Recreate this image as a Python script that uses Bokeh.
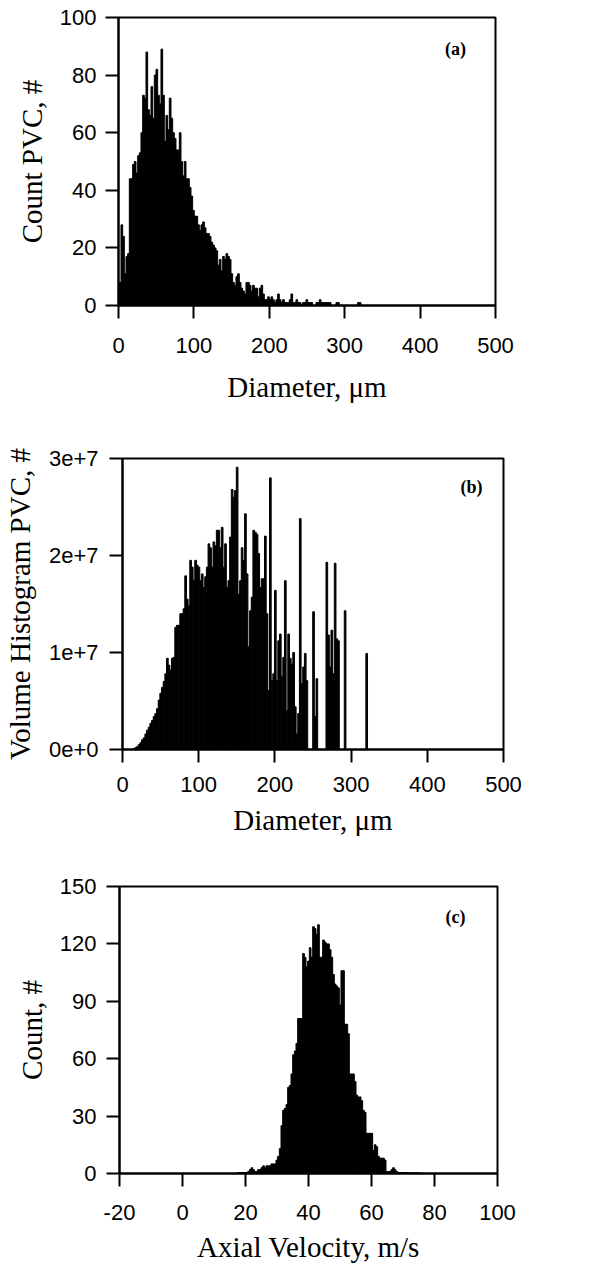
import numpy as np
from bokeh.plotting import figure
from bokeh.layouts import column
from bokeh.models import Range1d, FixedTicker, CustomJSTickFormatter, Label, ColumnDataSource
from bokeh.embed import file_html
from bokeh.resources import INLINE

# ---------------- data ----------------
# (a) particle count histogram vs diameter (um)
diam_a_start = 1.1      # left edge of first bin, um
diam_a_width = 2.21     # bin width, um
count_pvc = [8, 28, 24, 11, 17, 18, 44, 44, 49, 50, 46, 52, 53, 60, 73, 72, 88, 68, 66, 76,
             65, 80, 82, 73, 70, 89, 73, 57, 66, 61, 72, 65, 60, 58, 54, 54, 60, 50, 45, 50,
             44, 44, 41, 38, 33, 31, 31, 28, 26, 28, 29, 27, 25, 25, 24, 22, 21, 20, 19, 14,
             16, 12, 17, 16, 18, 17, 16, 11, 8, 7, 10, 11, 8, 6, 5, 4, 8, 8, 7, 5,
             7, 6, 6, 3, 6, 7, 4, 2, 2, 3, 2, 3, 2, 1, 2, 4, 2, 1, 2, 1,
             1, 1, 2, 4, 1, 1, 2, 1, 1, 0, 1, 1, 2, 1, 1, 1, 0, 0, 1, 1,
             2, 1, 1, 1, 1, 1, 1, 0, 0, 0, 1, 1, 0, 0, 0, 0, 0, 0, 0, 0,
             0, 0, 0, 1, 1, 0, 0]

# (b) volume histogram vs diameter (um), values in millions
diam_b_start = 1.1
diam_b_width = 2.18
volume_millions = [0, 0, 0, 0, 0, 0, 0.1, 0.2, 0.3, 0.5, 0.7, 1.0, 1.2, 1.6, 2.0, 2.3, 2.7, 3.0, 3.4, 3.7,
                   4.2, 5.1, 5.8, 6.4, 7.0, 7.8, 9.4, 8.7, 8.2, 9.4, 9.5, 12.6, 12.8, 12.8, 14.0, 14.0, 14.5, 17.9, 15.5, 14.8,
                   19.5, 18.8, 17.4, 19.5, 19.0, 18.8, 17.4, 18.1, 16.7, 17.8, 18.8, 21.2, 20.8, 18.8, 21.4, 21.0, 22.6, 22.6, 20.8, 22.9,
                   18.8, 21.2, 16.7, 17.4, 21.9, 26.8, 26.0, 26.7, 29.1, 16.0, 17.4, 20.8, 19.5, 24.3, 18.1, 10.6, 14.3, 15.7, 22.6, 22.4,
                   22.2, 20.2, 16.7, 17.6, 17.6, 22.0, 14.0, 6.1, 28.0, 7.1, 7.8, 16.4, 7.1, 11.2, 11.9, 7.5, 9.5, 17.4, 4.0, 11.9,
                   9.4, 8.8, 10.0, 4.4, 1.6, 3.7, 23.8, 6.8, 8.5, 9.9, 7.1, 0, 0, 0, 14.2, 3.4, 7.3, 0, 0, 0,
                   0, 0, 19.3, 11.8, 8.5, 12.3, 7.8, 19.2, 11.4, 11.2, 0, 0, 0, 14.3, 0, 0, 0, 0, 0, 0,
                   0, 0, 0, 0, 0, 0, 9.9]

# (c) count vs axial velocity (m/s)
vel_start = 15.93
vel_width = 0.529
count_vel = [0, 0, 0, 0.5, 0.5, 0.5, 0.5, 0.5, 0.5, 1, 2, 3, 2, 1, 1, 2, 2, 3, 4, 3,
             4, 4, 4, 5, 5, 5, 7, 9, 13, 25, 33, 34, 36, 45, 46, 52, 62, 64, 68, 81,
             81, 81, 115, 113, 108, 111, 118, 113, 129, 128, 125, 130, 113, 113, 122, 121, 120, 120, 117, 113,
             104, 99, 98, 97, 88, 106, 106, 78, 78, 73, 52, 52, 52, 48, 41, 40, 40, 38, 33, 32,
             21, 21, 21, 21, 12, 15, 14, 9, 8, 8, 8, 7, 1, 1, 1, 2, 3, 2, 1, 0.5,
             0.5, 0.5, 0.5, 0.5, 0.5, 0.3, 0.3, 0.3, 0.3, 0.3, 0.3, 0.3, 0.3]

x_ticks_a = [0, 100, 200, 300, 400, 500]
y_ticks_a = [0, 20, 40, 60, 80, 100]
y_ticks_b = [0, 1e7, 2e7, 3e7]
x_ticks_c = [-20, 0, 20, 40, 60, 80, 100]
y_ticks_c = [0, 30, 60, 90, 120, 150]

TICK_FONT = "Liberation Sans"
LABEL_FONT = "Liberation Serif"


def bins_source(start, width, values, scale=1.0):
    n = len(values)
    left = start + width * np.arange(n)
    return ColumnDataSource(dict(left=left, right=left + width,
                                 top=np.array(values, dtype=float) * scale))


def make_fig(height, left, right, top, bottom, xr, yr, xticks, yticks,
             xlabel, ylabel, x_std, x_lab_std, y_std, y_lab_std):
    p = figure(width=600, height=height, x_range=Range1d(*xr), y_range=Range1d(*yr),
               output_backend="svg", toolbar_location=None, frame_align=False,
               min_border_left=left, min_border_right=right,
               min_border_top=top, min_border_bottom=bottom)
    p.grid.visible = False
    p.outline_line_color = "black"
    p.outline_line_width = 2
    p.background_fill_color = "white"
    p.border_fill_color = "white"
    for ax, ticks, std, lstd, lab in ((p.xaxis[0], xticks, x_std, x_lab_std, xlabel),
                                      (p.yaxis[0], yticks, y_std, y_lab_std, ylabel)):
        ax.ticker = FixedTicker(ticks=ticks, minor_ticks=[])
        ax.formatter = CustomJSTickFormatter(code="return String(Math.round(tick));")
        ax.axis_line_color = "black"
        ax.axis_line_width = 2
        ax.major_tick_line_color = "black"
        ax.major_tick_line_width = 2
        ax.major_tick_out = 13
        ax.major_tick_in = 0
        ax.minor_tick_line_color = None
        ax.major_label_text_font = TICK_FONT
        ax.major_label_text_font_size = "22px"
        ax.major_label_text_color = "black"
        ax.major_label_standoff = std
        ax.axis_label = lab
        ax.axis_label_text_font = LABEL_FONT
        ax.axis_label_text_font_size = "29px"
        ax.axis_label_text_font_style = "normal"
        ax.axis_label_text_color = "black"
        ax.axis_label_standoff = lstd
    return p


def add_panel_label(p, text, x, y):
    p.add_layout(Label(x=x, y=y, text=text, text_font=LABEL_FONT, text_font_size="18px",
                       text_font_style="bold", text_align="center", text_baseline="middle",
                       text_color="black"))


BAR = dict(fill_color="black", line_color="black", line_width=1.0)

# (a)
pa = make_fig(412, 118, 105, 17, 107, (0, 500), (0, 100), x_ticks_a, y_ticks_a,
              "Diameter, μm", "Count PVC, #", 19, 15, 9, 9)
pa.quad(left="left", right="right", top="top", bottom=0,
        source=bins_source(diam_a_start, diam_a_width, count_pvc), **BAR)
add_panel_label(pa, "(a)", 447, 89)

# (b)
pb = make_fig(436, 122, 97, 46, 99, (0, 500), (0, 3e7), x_ticks_a, y_ticks_b,
              "Diameter, μm", "Volume Histogram PVC, #", 14, 9, 11, 10)
pb.yaxis[0].formatter = CustomJSTickFormatter(
    code="return tick === 0 ? '0e+0' : (tick / 1e7).toFixed(0) + 'e+7';")
pb.quad(left="left", right="right", top="top", bottom=0,
        source=bins_source(diam_b_start, diam_b_width, volume_millions, 1e6), **BAR)
add_panel_label(pb, "(b)", 458, 2.71e7)

# (c)
pc = make_fig(418, 119, 103, 38, 93, (-20, 100), (0, 150), x_ticks_c, y_ticks_c,
              "Axial Velocity, m/s", "Count, #", 18, 8, 10, 9)
pc.quad(left="left", right="right", top="top", bottom=0,
        source=bins_source(vel_start, vel_width, count_vel), **BAR)
add_panel_label(pc, "(c)", 86.7, 134)

layout = column(pa, pb, pc, spacing=0)
open("out.html", "w").write(file_html(layout, INLINE))
